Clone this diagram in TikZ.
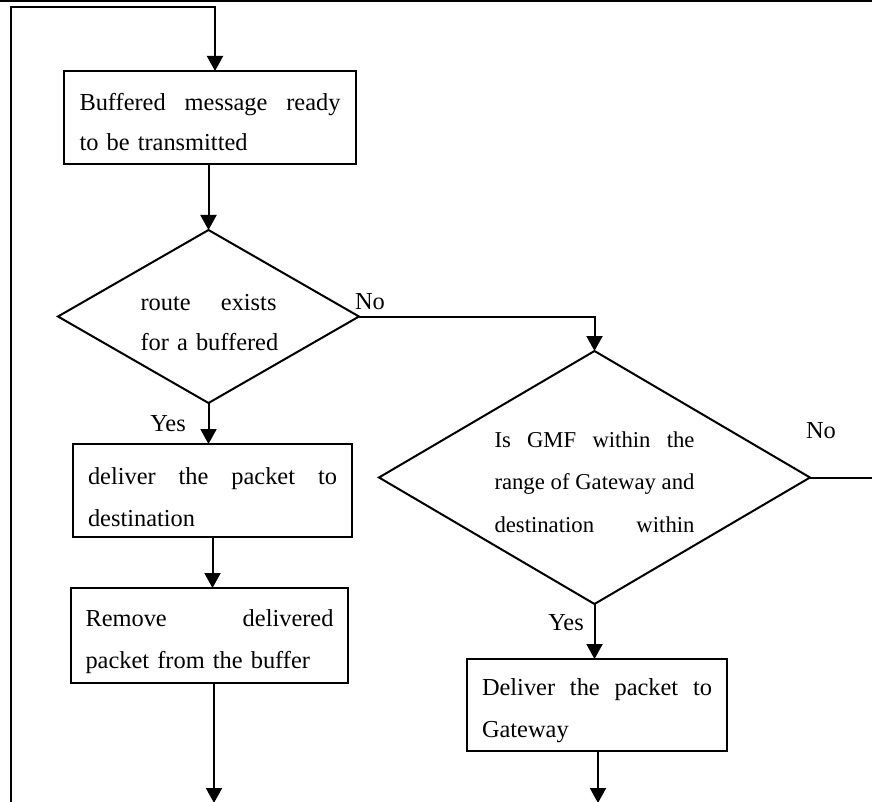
\documentclass[tikz,border=0pt]{standalone}
\usepackage{fontspec}
\setmainfont{Liberation Serif}
\usetikzlibrary{shapes.geometric,arrows.meta}
\newcommand{\jline}[2]{\leavevmode\hbox to #1{#2}}
\newcommand{\topstrut}[1]{\rule{0pt}{#1}}
\newcommand{\botstrut}{\rule[-10pt]{0pt}{10pt}}
\begin{document}
\begin{tikzpicture}[x=1pt,y=-1pt,
  ln/.style={line width=2pt},
  arr/.style={ln, -{Triangle[width=16pt,length=15pt]}},
  box/.style={draw, ln, rectangle, inner sep=0pt, outer sep=0pt, align=left},
  dec/.style={draw, ln, diamond, inner sep=0pt, outer sep=0pt, align=left},
  lbl/.style={inner sep=0pt, font=\fontsize{24.4}{29}\selectfont}]
\useasboundingbox (0,0) rectangle (872,802);

% process boxes
\node[box, minimum width=292pt, minimum height=93pt, text width=261pt,
      font=\fontsize{24.4}{40}\selectfont] (box1) at (210,117.5)
  {\topstrut{37pt}\jline{261pt}{Buffered\hfill message\hfill ready}\\\mbox{to be transmitted}\botstrut};
\node[box, minimum width=279pt, minimum height=93pt, text width=249pt,
      font=\fontsize{24.4}{42}\selectfont] (box2) at (212.5,490.5)
  {\topstrut{39pt}\jline{249pt}{deliver\hfill the\hfill packet\hfill to}\\\mbox{destination}\botstrut};
\node[box, minimum width=277pt, minimum height=95pt, text width=248pt,
      font=\fontsize{24.4}{42}\selectfont] (box3) at (209.5,635.5)
  {\topstrut{33.6pt}\jline{248pt}{Remove\hfill delivered}\\\mbox{packet from the buffer}\botstrut};
\node[box, minimum width=260pt, minimum height=92pt, text width=230pt,
      font=\fontsize{24.4}{42}\selectfont] (box4) at (597,705)
  {\topstrut{33.6pt}\jline{230pt}{Deliver\hfill the\hfill packet\hfill to}\\\mbox{Gateway}\botstrut};

% decisions
\node[dec, aspect=1.74, minimum width=301pt, minimum height=173pt, text width=136pt,
      font=\fontsize{24.4}{40}\selectfont] (dia1) at (208.5,316.5)
  {\topstrut{37pt}\jline{136pt}{route\hfill exists}\\\mbox{for a buffered}\botstrut};
\node[dec, aspect=1.7, minimum width=431pt, minimum height=253pt, text width=200pt,
      font=\fontsize{22.7}{42.5}\selectfont] (dia2) at (594.5,477.5)
  {\topstrut{34pt}\jline{200pt}{Is\hfill GMF\hfill within\hfill the}\\\jline{200pt}{range\hfill of\hfill Gateway\hfill and}\\\jline{200pt}{destination\hfill within}\botstrut};

% labels
\node[lbl] (no1) at (370,302) {No};
\node[lbl] (no2) at (821,431) {No};
\node[lbl] (yes1) at (168,424) {Yes};
\node[lbl] (yes2) at (566,623) {Yes};

% free ends
\coordinate (tl) at (0,1);
\coordinate (tr) at (872,1);
\coordinate (lb) at (11,803);
\coordinate (lt) at (11,7);
\coordinate (rt) at (215,7);
\coordinate (out1) at (214,803);
\coordinate (out2) at (872,477.5);
\coordinate (out3) at (598,803);

% connectors
\draw[ln] (tl) -- (tr);
\draw[arr] (lb) -- (lt) -- (rt) -- (rt |- box1.north);
\draw[arr] (box1.south -| dia1.north) -- (dia1.north);
\draw[arr] (dia1.south) -- (dia1.south |- box2.north);
\draw[arr] (box2.south) -- (box2.south |- box3.north);
\draw[arr] (out1 |- box3.south) -- (out1);
\draw[arr] (dia1.east) -| (dia2.north);
\draw[ln] (dia2.east) -- (out2);
\draw[arr] (dia2.south) -- (dia2.south |- box4.north);
\draw[arr] (out3 |- box4.south) -- (out3);
\end{tikzpicture}
\end{document}
